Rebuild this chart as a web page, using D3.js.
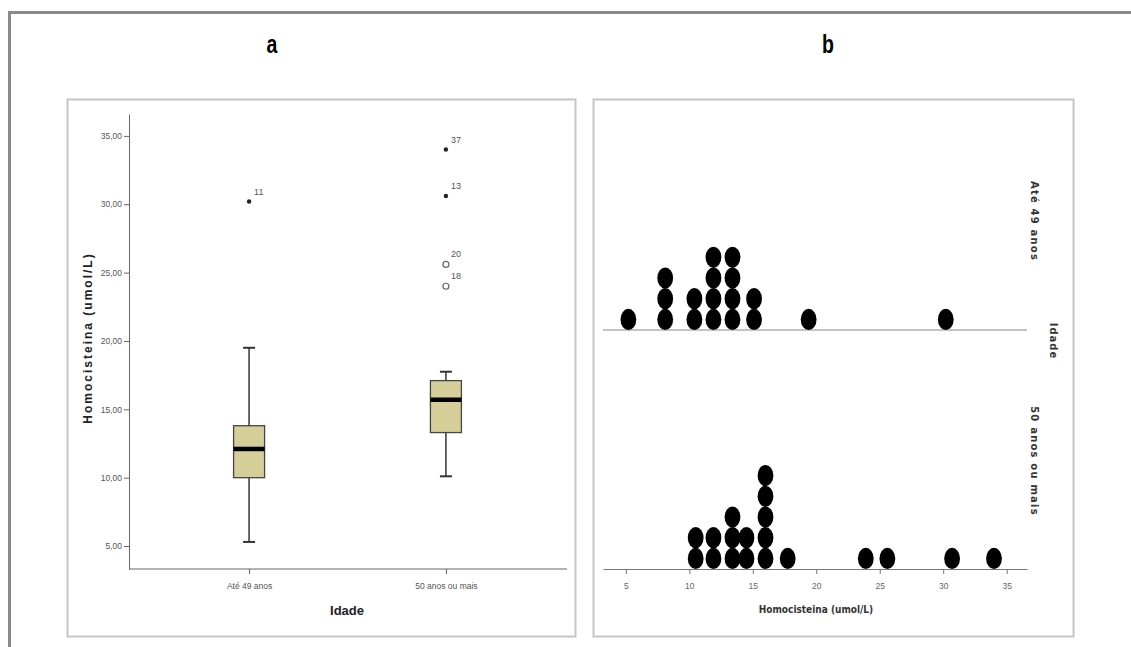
<!DOCTYPE html>
<html>
<head>
<meta charset="utf-8">
<script src="https://cdn.jsdelivr.net/npm/d3@7"></script>
<style>
	body { margin: 0; background: #fff; }
	svg { display: block; }
</style>
</head>
<body>
<div class="container"></div>
<script>
// ---- data ----
var categories = ["Até 49 anos", "50 anos ou mais"];

// box plot (panel a), one value per category
var whiskerLow = [5.3, 10.1];
var q1 = [10.0, 13.3];
var median = [12.1, 15.7];
var q3 = [13.8, 17.1];
var whiskerHigh = [19.5, 17.75];

// outliers: category index, value, case label, extreme (*) or not (o)
var outlierGroup = [0, 1, 1, 1, 1];
var outlierValue = [30.2, 34.0, 30.6, 25.6, 24.0];
var outlierLabel = ["11", "37", "13", "20", "18"];
var outlierExtreme = [true, true, true, false, false];

var yTicks = [5, 10, 15, 20, 25, 30, 35];

// dot plot (panel b): bin value and number of stacked dots
var dotValuesTop = [5.2, 8.1, 10.4, 11.9, 13.4, 15.1, 19.4, 30.2];
var dotCountsTop = [1, 3, 2, 4, 4, 2, 1, 1];
var dotValuesBottom = [10.5, 11.9, 13.4, 14.5, 16.0, 17.75, 23.9, 25.6, 30.7, 34.0];
var dotCountsBottom = [2, 2, 3, 2, 5, 1, 1, 1, 1, 1];

var xTicksDot = [5, 10, 15, 20, 25, 30, 35];

var charter = function () {
	var width = 1131, height = 647;
	var narrow = "'Liberation Sans Narrow', 'Arial Narrow', 'Liberation Sans', Arial, sans-serif";
	var sans = "'Liberation Sans', Arial, sans-serif";
	var dejavu = "'DejaVu Sans', sans-serif";

	var init = function () {
		var paper = d3.select('.container').append("svg")
			.attr("width", width)
			.attr("height", height);

		// outer frame (top and left edges)
		paper.append("line").attr("x1", 8).attr("x2", width).attr("y1", 12.5).attr("y2", 12.5)
			.attr("stroke", "#8a8a8a").attr("stroke-width", 3);
		paper.append("line").attr("x1", 9.5).attr("x2", 9.5).attr("y1", 11).attr("y2", height)
			.attr("stroke", "#8a8a8a").attr("stroke-width", 3);

		// panel letters (squeezed to look condensed)
		paper.append("text").attr("transform", "translate(272,53) scale(0.78,1)").attr("text-anchor", "middle")
			.style("font-family", sans).style("font-weight", "bold").style("font-size", "25px")
			.text("a");
		paper.append("text").attr("transform", "translate(828,53) scale(0.78,1)").attr("text-anchor", "middle")
			.style("font-family", sans).style("font-weight", "bold").style("font-size", "25px")
			.text("b");

		// panel frames
		paper.append("rect").attr("x", 67.5).attr("y", 99.5).attr("width", 508).attr("height", 537)
			.attr("fill", "#fff").attr("stroke", "#c6c6c6").attr("stroke-width", 2);
		paper.append("rect").attr("x", 593.5).attr("y", 99.5).attr("width", 480).attr("height", 537)
			.attr("fill", "#fff").attr("stroke", "#c6c6c6").attr("stroke-width", 2);

		drawBoxPlot(paper);
		drawDotPlot(paper);
	};

	var drawBoxPlot = function (paper) {
		var y = d3.scaleLinear().domain([3.32, 36.6]).range([569, 114]);
		var x = d3.scalePoint().domain(categories).range([129, 566]).padding(0.61);
		var boxW = 31, capW = 12;

		var yAxis = paper.append("g").attr("transform", "translate(129,0)")
			.call(d3.axisLeft(y).tickValues(yTicks).tickSize(5).tickSizeOuter(0).tickPadding(2)
				.tickFormat(function (d) { return d.toFixed(2).replace('.', ','); }));
		yAxis.selectAll("path, line").attr("stroke", "#666");
		yAxis.selectAll("text").style("font-family", narrow).style("font-size", "8.5px").attr("fill", "#555");

		var xAxis = paper.append("g").attr("transform", "translate(0,569)")
			.call(d3.axisBottom(x).tickSize(5).tickSizeOuter(0).tickPadding(9));
		xAxis.select("path").attr("d", "M129,0H567");
		xAxis.selectAll("path, line").attr("stroke", "#666");
		xAxis.selectAll("text").style("font-family", narrow).style("font-size", "8.5px").attr("fill", "#555");

		paper.append("text").attr("transform", "translate(92,338) rotate(-90)").attr("text-anchor", "middle")
			.style("font-family", sans).style("font-weight", "bold").style("font-size", "12px")
			.style("letter-spacing", "2px").attr("fill", "#222")
			.text("Homocisteina (umol/L)");
		paper.append("text").attr("x", 347).attr("y", 615).attr("text-anchor", "middle")
			.style("font-family", narrow).style("font-weight", "bold").style("font-size", "13px").attr("fill", "#222")
			.text("Idade");

		var idx = d3.range(categories.length);
		var g = paper.append("g");
		var stroke = "#333";

		// whiskers
		g.selectAll(".whisker").data(idx).enter().append("line")
			.attr("x1", function (i) { return x(categories[i]); })
			.attr("x2", function (i) { return x(categories[i]); })
			.attr("y1", function (i) { return y(whiskerLow[i]); })
			.attr("y2", function (i) { return y(whiskerHigh[i]); })
			.attr("stroke", stroke).attr("stroke-width", 1.5);
		[whiskerLow, whiskerHigh].forEach(function (arr) {
			g.selectAll(null).data(idx).enter().append("line")
				.attr("x1", function (i) { return x(categories[i]) - capW / 2; })
				.attr("x2", function (i) { return x(categories[i]) + capW / 2; })
				.attr("y1", function (i) { return y(arr[i]); })
				.attr("y2", function (i) { return y(arr[i]); })
				.attr("stroke", stroke).attr("stroke-width", 2);
		});

		// boxes
		g.selectAll(".box").data(idx).enter().append("rect")
			.attr("x", function (i) { return x(categories[i]) - boxW / 2; })
			.attr("y", function (i) { return y(q3[i]); })
			.attr("width", boxW)
			.attr("height", function (i) { return y(q1[i]) - y(q3[i]); })
			.attr("fill", "#d5ce98").attr("stroke", "#444").attr("stroke-width", 1.3);
		g.selectAll(".median").data(idx).enter().append("line")
			.attr("x1", function (i) { return x(categories[i]) - boxW / 2; })
			.attr("x2", function (i) { return x(categories[i]) + boxW / 2; })
			.attr("y1", function (i) { return y(median[i]); })
			.attr("y2", function (i) { return y(median[i]); })
			.attr("stroke", "#000").attr("stroke-width", 4.5);

		// outliers
		var oIdx = d3.range(outlierValue.length);
		g.selectAll(".outlier").data(oIdx).enter().append("circle")
			.attr("cx", function (i) { return x(categories[outlierGroup[i]]); })
			.attr("cy", function (i) { return y(outlierValue[i]); })
			.attr("r", function (i) { return outlierExtreme[i] ? 2.2 : 3; })
			.attr("fill", function (i) { return outlierExtreme[i] ? "#222" : "none"; })
			.attr("stroke", function (i) { return outlierExtreme[i] ? "none" : "#666"; })
			.attr("stroke-width", 1.2);
		g.selectAll(".olabel").data(oIdx).enter().append("text")
			.attr("x", function (i) { return x(categories[outlierGroup[i]]) + 5; })
			.attr("y", function (i) { return y(outlierValue[i]) - 7; })
			.style("font-family", narrow).style("font-size", "9px").attr("fill", "#555")
			.text(function (i) { return outlierLabel[i]; });
	};

	var drawDotPlot = function (paper) {
		var x = d3.scaleLinear().domain([3.2, 36.6]).range([603, 1027]);
		var rows = [
			{ base: 330, values: dotValuesTop, counts: dotCountsTop, label: categories[0], ly: 221 },
			{ base: 569, values: dotValuesBottom, counts: dotCountsBottom, label: categories[1], ly: 461 }
		];
		var step = 20.7, rx = 7.9, ry = 10.6;

		// top baseline (no ticks)
		paper.append("line").attr("x1", x.range()[0]).attr("x2", x.range()[1])
			.attr("y1", 330).attr("y2", 330).attr("stroke", "#888").attr("stroke-width", 1.2);

		var xAxis = paper.append("g").attr("transform", "translate(0,569)")
			.call(d3.axisBottom(x).tickValues(xTicksDot).tickSize(5).tickSizeOuter(0).tickPadding(9));
		xAxis.selectAll("path, line").attr("stroke", "#777");
		xAxis.selectAll("text").style("font-family", narrow).style("font-size", "8.5px").attr("fill", "#666");

		paper.append("text").attr("x", 816).attr("y", 613).attr("text-anchor", "middle")
			.style("font-family", dejavu).style("font-weight", "bold").style("font-size", "10px")
			.style("font-stretch", "condensed").attr("fill", "#333")
			.text("Homocisteina (umol/L)");

		rows.forEach(function (row) {
			var dots = [];
			row.values.forEach(function (v, i) {
				d3.range(row.counts[i]).forEach(function (k) { dots.push({ v: v, k: k }); });
			});
			var stack = d3.scaleLinear().domain([0, 1]).range([row.base - ry, row.base - ry - step]);
			paper.append("g").selectAll("ellipse").data(dots).enter().append("ellipse")
				.attr("cx", function (d) { return x(d.v); })
				.attr("cy", function (d) { return stack(d.k); })
				.attr("rx", rx).attr("ry", ry)
				.attr("fill", "#000");

			paper.append("text").attr("transform", "translate(1031," + row.ly + ") rotate(90)")
				.attr("text-anchor", "middle")
				.style("font-family", dejavu).style("font-weight", "bold").style("font-size", "10px")
				.style("letter-spacing", "1.2px").attr("fill", "#333")
				.text(row.label);
		});

		paper.append("text").attr("transform", "translate(1050,341) rotate(90)")
			.attr("text-anchor", "middle")
			.style("font-family", dejavu).style("font-weight", "bold").style("font-size", "10px")
			.style("letter-spacing", "1px").attr("fill", "#333")
			.text("Idade");
	};

	return Object.freeze({ init: init });
};

var c = charter();
c.init();
</script>
</body>
</html>
